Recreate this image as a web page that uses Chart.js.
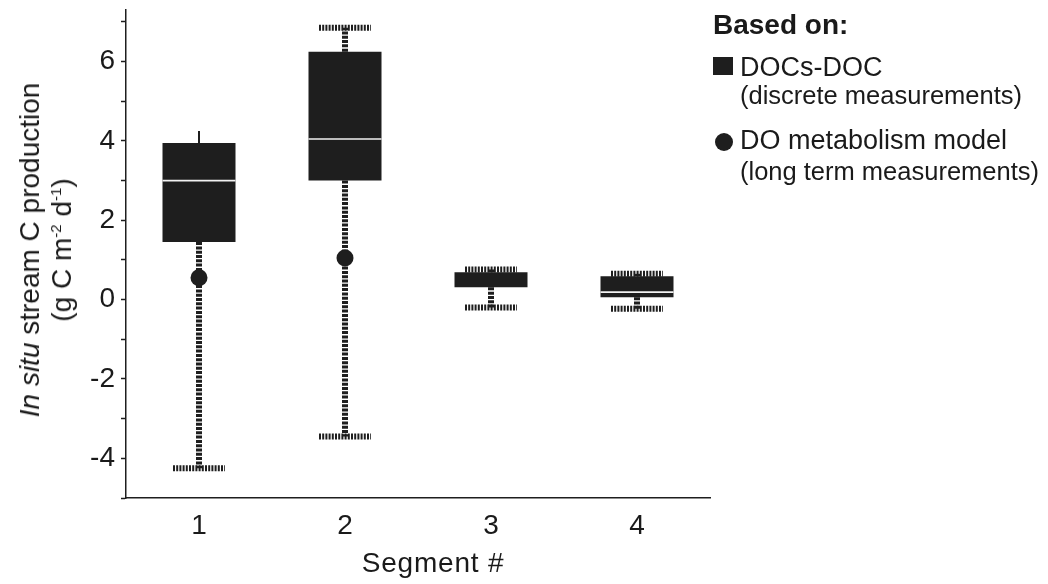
<!DOCTYPE html>
<html>
<head>
<meta charset="utf-8">
<script src="https://cdn.jsdelivr.net/npm/chart.js@4.4.1/dist/chart.umd.min.js"></script>
<style>
  html, body { margin: 0; padding: 0; background: #fff; }
  #wrap { position: relative; width: 1048px; height: 584px; font-family: "Liberation Sans", Arial, sans-serif; color: #1a1a1a; }
  canvas { position: absolute; left: 0; top: 0; }
  .t { position: absolute; white-space: nowrap; }
  #ytitle { position: absolute; left: 46px; top: 250px; transform: translate(-50%, -50%) rotate(-90deg); text-align: center; font-size: 28px; line-height: 32px; white-space: nowrap; }
  #ytitle sup { font-size: 15px; vertical-align: 10px; line-height: 0; }
  #xtitle { position: absolute; left: 433px; top: 549px; transform: translateX(-50%); font-size: 28px; line-height: 28px; letter-spacing: 0.8px; white-space: nowrap; }
</style>
</head>
<body>
<div id="wrap">
  <canvas id="c" width="1048" height="584"></canvas>
  <div id="ytitle"><i>In situ</i> stream C production<br>(g C m<sup>-2</sup> d<sup>-1</sup>)</div>
  <div id="xtitle">Segment #</div>
  <div class="t" style="left:713px; top:11px; font-size:28px; line-height:28px; font-weight:bold;">Based on:</div>
  <div style="position:absolute; left:713px; top:57px; width:20px; height:18px; background:#1e1e1e;"></div>
  <div class="t" style="left:740px; top:54px; font-size:27px; line-height:27px;">DOCs-DOC</div>
  <div class="t" style="left:740px; top:83px; font-size:25.5px; line-height:25.5px;">(discrete measurements)</div>
  <div style="position:absolute; left:715px; top:133px; width:18px; height:18px; border-radius:50%; background:#1e1e1e;"></div>
  <div class="t" style="left:740px; top:127px; font-size:27px; line-height:27px;">DO metabolism model</div>
  <div class="t" style="left:740px; top:159px; font-size:25.5px; line-height:25.5px;">(long term measurements)</div>
</div>
<script>
// ---- data ----
const categories = ['1', '2', '3', '4'];
const boxLow = [1.45, 3.0, 0.31, 0.06];      // 25th percentile
const boxHigh = [3.95, 6.25, 0.69, 0.59];    // 75th percentile
const medians = [3.0, 4.05, null, 0.19];
const whiskerLow = [-4.25, -3.45, -0.2, -0.23];
const whiskerHigh = [4.25, 6.85, 0.76, 0.65];
const whiskerHighCapped = [false, true, true, true];
const modelValues = [0.55, 1.05, null, null];
const yTickLabels = [-4, -2, 0, 2, 4, 6];

const INK = '#1e1e1e';

const whiskerPlugin = {
  id: 'whiskers',
  beforeDatasetsDraw(chart) {
    const ctx = chart.ctx;
    const xs = chart.scales.x, ys = chart.scales.y;
    ctx.save();
    ctx.strokeStyle = INK;
    categories.forEach((c, i) => {
      const x = xs.getPixelForValue(i);
      const capHalf = 26;
      ctx.lineCap = 'butt';
      ctx.lineWidth = 6;
      ctx.setLineDash([3, 1.3]);
      ctx.beginPath();
      ctx.moveTo(x, ys.getPixelForValue(boxLow[i]));
      ctx.lineTo(x, ys.getPixelForValue(whiskerLow[i]));
      ctx.stroke();
      ctx.setLineDash([2, 1.2]);
      ctx.beginPath();
      const yl = ys.getPixelForValue(whiskerLow[i]);
      ctx.moveTo(x - capHalf, yl);
      ctx.lineTo(x + capHalf, yl);
      ctx.stroke();
      const yh = ys.getPixelForValue(whiskerHigh[i]);
      if (whiskerHighCapped[i]) {
        ctx.lineWidth = 6;
        ctx.setLineDash([3, 1.3]);
        ctx.beginPath();
        ctx.moveTo(x, ys.getPixelForValue(boxHigh[i]));
        ctx.lineTo(x, yh);
        ctx.stroke();
        ctx.setLineDash([2, 1.2]);
        ctx.beginPath();
        ctx.moveTo(x - capHalf, yh);
        ctx.lineTo(x + capHalf, yh);
        ctx.stroke();
      } else {
        ctx.setLineDash([]);
        ctx.lineWidth = 2;
        ctx.beginPath();
        ctx.moveTo(x, ys.getPixelForValue(boxHigh[i]));
        ctx.lineTo(x, yh);
        ctx.stroke();
      }
    });
    ctx.restore();
  },
  afterDatasetDraw(chart, args) {
    if (args.index !== 0) return;
    const ctx = chart.ctx;
    const ys = chart.scales.y;
    const meta = chart.getDatasetMeta(0);
    ctx.save();
    ctx.strokeStyle = '#f2f2f2';
    ctx.lineWidth = 1.6;
    medians.forEach((m, i) => {
      if (m === null) return;
      const bar = meta.data[i];
      const y = ys.getPixelForValue(m);
      ctx.beginPath();
      ctx.moveTo(bar.x - bar.width / 2, y);
      ctx.lineTo(bar.x + bar.width / 2, y);
      ctx.stroke();
    });
    ctx.restore();
  }
};

new Chart(document.getElementById('c'), {
  data: {
    labels: categories,
    datasets: [
      {
        type: 'bar',
        label: 'DOCs-DOC',
        data: boxLow.map((v, i) => [v, boxHigh[i]]),
        backgroundColor: INK,
        borderWidth: 0,
        barPercentage: 1,
        categoryPercentage: 0.5,
        order: 2
      },
      {
        type: 'line',
        label: 'DO metabolism model',
        data: modelValues,
        showLine: false,
        pointRadius: 8.5,
        pointBackgroundColor: INK,
        pointBorderWidth: 0,
        order: 1
      }
    ]
  },
  options: {
    responsive: false,
    animation: false,
    events: [],
    layout: { padding: { left: 0, right: 338, top: 10, bottom: 0 } },
    plugins: { legend: { display: false }, tooltip: { enabled: false } },
    scales: {
      x: {
        type: 'category',
        offset: true,
        grid: { display: false, drawTicks: false },
        border: { display: true, color: INK, width: 1.5 },
        ticks: { color: '#1a1a1a', font: { family: 'Liberation Sans', size: 28 }, padding: 11, maxRotation: 0 },
        title: { display: false },
        afterFit(scale) { scale.height = 86; scale.paddingLeft = 0; scale.paddingRight = 0; }
      },
      y: {
        min: -5,
        max: 7.3,
        grid: { drawOnChartArea: false, drawTicks: true, tickLength: 5, color: INK, tickWidth: 1.5 },
        border: { display: true, color: INK, width: 1.5 },
        ticks: {
          stepSize: 1,
          includeBounds: false,
          color: '#1a1a1a',
          font: { family: 'Liberation Sans', size: 28 },
          padding: 6,
          callback: (v) => (yTickLabels.includes(v) ? String(v) : '')
        },
        afterFit(scale) { scale.width = 126; scale.paddingTop = 0; scale.paddingBottom = 0; }
      }
    }
  },
  plugins: [whiskerPlugin]
});
</script>
</body>
</html>
